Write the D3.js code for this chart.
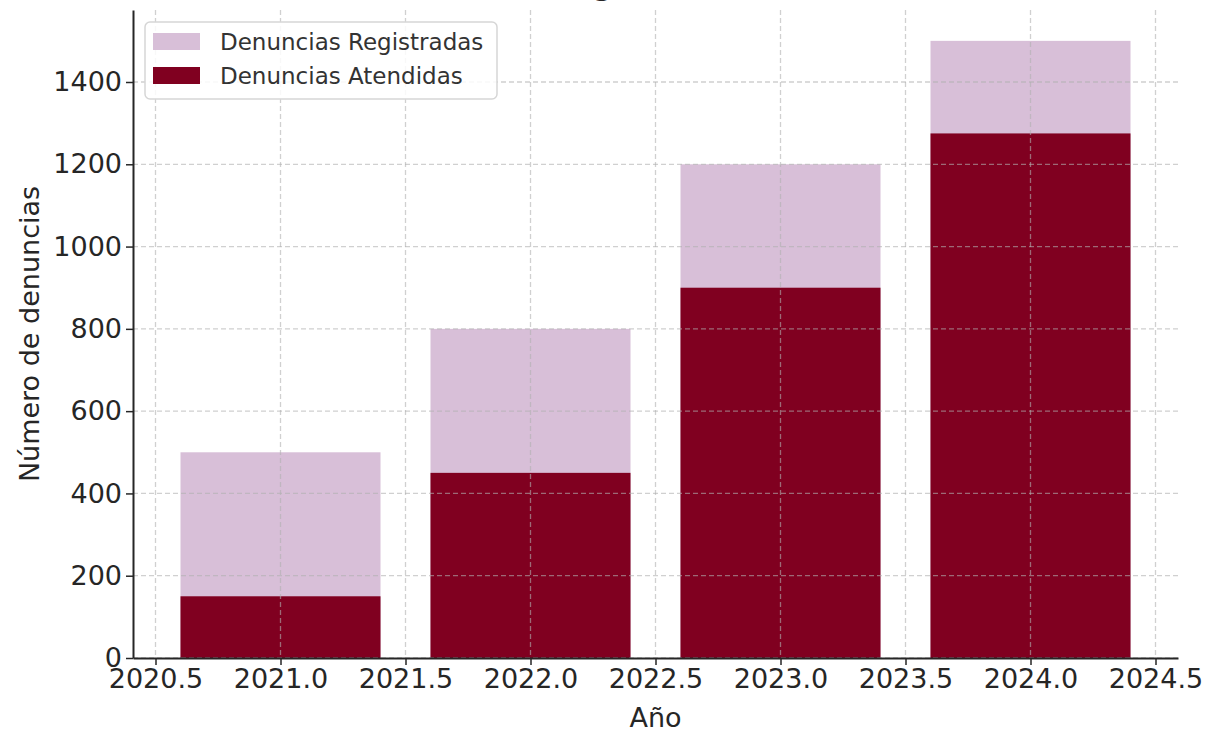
<!DOCTYPE html>
<html>
<head>
<meta charset="utf-8">
<script src="https://cdn.jsdelivr.net/npm/d3@7"></script>
<style>
  body { margin: 0; background: #fff; }
  svg { display: block; font-family: "DejaVu Sans", sans-serif; }
  .tick text { fill: #262626; font-size: 27px; }
  .grid line { stroke: #b0b0b0; stroke-opacity: 0.6; stroke-dasharray: 5,3; stroke-width: 1.3; }
</style>
</head>
<body>
<div id="chart"></div>
<script>
// chart data
var years = [2021, 2022, 2023, 2024];
var registradas = [500, 800, 1200, 1500];
var atendidas = [150, 450, 900, 1275];
var seriesNames = ["Denuncias Registradas", "Denuncias Atendidas"];
var seriesColors = ["#d8bfd8", "#800020"];
var xTicks = [2020.5, 2021.0, 2021.5, 2022.0, 2022.5, 2023.0, 2023.5, 2024.0, 2024.5];
var yTicks = [0, 200, 400, 600, 800, 1000, 1200, 1400];

var W = 1214, H = 735;
var margin = {top: 10, right: 36, bottom: 77, left: 133},
    width = W - margin.left - margin.right,
    height = H - margin.top - margin.bottom;

var barWidth = 0.8;

// x is linear (years as numbers), padded like matplotlib does
var xMin = d3.min(years) - barWidth / 2, xMax = d3.max(years) + barWidth / 2;
var pad = (xMax - xMin) * 0.05;
var x = d3.scaleLinear().domain([xMin - pad, xMax + pad]).range([0, width]);
var y = d3.scaleLinear().domain([0, d3.max(registradas) * 1.05]).range([height, 0]);

var svg = d3.select("#chart").append("svg")
    .attr("width", W)
    .attr("height", H);

// title (cut off at the top in the reference)
svg.append("text")
    .attr("x", margin.left + width / 2)
    .attr("y", -5)
    .attr("text-anchor", "middle")
    .attr("font-size", "28px")
    .attr("font-weight", "bold")
    .attr("fill", "#262626")
    .text("Evolución de Denuncias Registradas vs Atendidas, 2021-2024");

var g = svg.append("g")
    .attr("transform", "translate(" + margin.left + "," + margin.top + ")");

// bars: registered behind, attended in front
var data = years.map(function(yr, i) {
  return {year: yr, reg: registradas[i], att: atendidas[i]};
});

g.selectAll(".bar-reg")
    .data(data)
    .enter().append("rect")
    .attr("class", "bar-reg")
    .attr("x", function(d) { return x(d.year - barWidth / 2); })
    .attr("width", function(d) { return x(d.year + barWidth / 2) - x(d.year - barWidth / 2); })
    .attr("y", function(d) { return y(d.reg); })
    .attr("height", function(d) { return y(0) - y(d.reg); })
    .attr("fill", seriesColors[0]);

g.selectAll(".bar-att")
    .data(data)
    .enter().append("rect")
    .attr("class", "bar-att")
    .attr("x", function(d) { return x(d.year - barWidth / 2); })
    .attr("width", function(d) { return x(d.year + barWidth / 2) - x(d.year - barWidth / 2); })
    .attr("y", function(d) { return y(d.att); })
    .attr("height", function(d) { return y(0) - y(d.att); })
    .attr("fill", seriesColors[1]);

// grid lines (drawn over the bars)
g.append("g")
    .attr("class", "grid")
    .selectAll("line")
    .data(xTicks)
    .enter().append("line")
    .attr("x1", function(d) { return x(d); })
    .attr("x2", function(d) { return x(d); })
    .attr("y1", 0)
    .attr("y2", height);

g.append("g")
    .attr("class", "grid")
    .selectAll("line")
    .data(yTicks)
    .enter().append("line")
    .attr("x1", 0)
    .attr("x2", width)
    .attr("y1", function(d) { return y(d); })
    .attr("y2", function(d) { return y(d); });

// axes
var xAxis = d3.axisBottom(x)
    .tickValues(xTicks)
    .tickFormat(d3.format(".1f"))
    .tickSize(7)
    .tickPadding(4)
    .tickSizeOuter(0);

var yAxis = d3.axisLeft(y)
    .tickValues(yTicks)
    .tickFormat(d3.format("d"))
    .tickSize(7)
    .tickPadding(4)
    .tickSizeOuter(0);

var gx = g.append("g")
    .attr("transform", "translate(0," + height + ")")
    .call(xAxis);
var gy = g.append("g").call(yAxis);

[gx, gy].forEach(function(a) {
  a.select(".domain").attr("stroke", "#262626").attr("stroke-width", 2);
  a.selectAll(".tick line").attr("stroke", "#262626").attr("stroke-width", 1.5);
  a.selectAll(".tick text").attr("font-family", "DejaVu Sans");
});

// axis labels
svg.append("text")
    .attr("x", margin.left + width / 2)
    .attr("y", 727)
    .attr("text-anchor", "middle")
    .attr("font-size", "27px")
    .attr("fill", "#262626")
    .text("Año");

svg.append("text")
    .attr("transform", "translate(39," + (margin.top + height / 2) + ") rotate(-90)")
    .attr("text-anchor", "middle")
    .attr("font-size", "27px")
    .attr("fill", "#262626")
    .text("Número de denuncias");

// legend
var legend = svg.append("g").attr("transform", "translate(145,22)");

legend.append("rect")
    .attr("width", 352)
    .attr("height", 77)
    .attr("rx", 5)
    .attr("fill", "#fff")
    .attr("fill-opacity", 0.85)
    .attr("stroke", "#d6d6d6")
    .attr("stroke-width", 1.5);

var items = legend.selectAll(".item")
    .data(seriesNames)
    .enter().append("g")
    .attr("transform", function(d, i) { return "translate(8," + (11 + i * 34) + ")"; });

items.append("rect")
    .attr("width", 47)
    .attr("height", 17)
    .attr("fill", function(d, i) { return seriesColors[i]; });

items.append("text")
    .attr("x", 67)
    .attr("y", 9)
    .attr("dy", "0.35em")
    .attr("font-size", "23px")
    .attr("fill", "#333")
    .text(function(d) { return d; });
</script>
</body>
</html>
